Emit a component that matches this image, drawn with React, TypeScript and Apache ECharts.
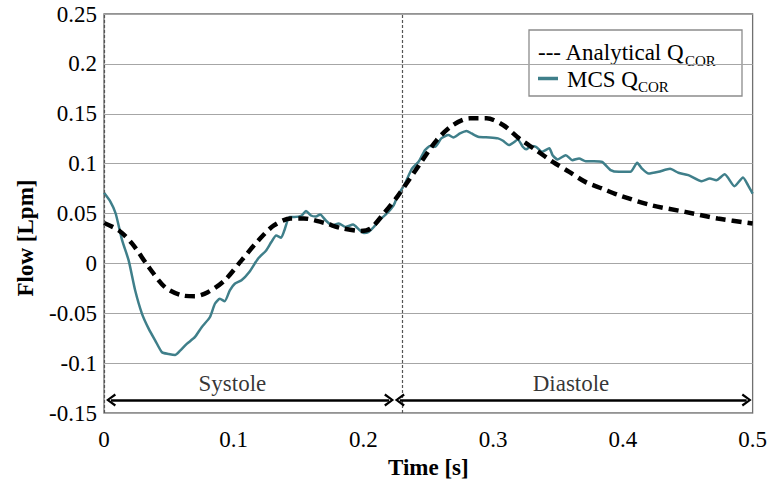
import React, { useEffect, useRef } from "react";
import * as echarts from "echarts";

const SERIF = "Liberation Serif, Times New Roman, serif";
const FAMILY = "Liberation Serif";

const xTicks = [0, 0.1, 0.2, 0.3, 0.4, 0.5];
const yTicks = [-0.15, -0.1, -0.05, 0, 0.05, 0.1, 0.15, 0.2, 0.25];

const analyticalT = [
  0, 0.0115, 0.0217, 0.0345, 0.047, 0.06, 0.07, 0.08, 0.093, 0.106, 0.119, 0.131,
  0.144, 0.154, 0.17, 0.1825, 0.198, 0.2055, 0.2157, 0.226, 0.2437, 0.2565, 0.269,
  0.282, 0.295, 0.3076, 0.32, 0.333, 0.346, 0.3586, 0.371, 0.384, 0.397, 0.422,
  0.448, 0.473, 0.5,
];
const analyticalQ = [
  0.0405, 0.033, 0.0198, -0.0037, -0.0238, -0.032, -0.033, -0.029, -0.017, 0.003,
  0.023, 0.038, 0.045, 0.045, 0.0405, 0.0355, 0.0325, 0.035, 0.05, 0.0667, 0.1,
  0.1236, 0.1387, 0.1454, 0.1454, 0.1387, 0.1253, 0.1136, 0.1018, 0.0918, 0.0817,
  0.075, 0.0683, 0.0583, 0.0516, 0.045, 0.04,
];

const mcsT = [
  0, 0.005, 0.009, 0.014, 0.019, 0.024, 0.0293, 0.0345, 0.0395, 0.0447, 0.0498,
  0.0548, 0.0587, 0.0638, 0.07, 0.0753, 0.0816, 0.0855, 0.0893, 0.093, 0.097,
  0.1008, 0.106, 0.112, 0.1187, 0.125, 0.129, 0.1327, 0.1365, 0.139, 0.143, 0.1468,
  0.1524, 0.1557, 0.1595, 0.1634, 0.1666, 0.171, 0.176, 0.181, 0.1863, 0.192,
  0.1965, 0.2003, 0.204, 0.208, 0.213, 0.218, 0.2233, 0.226, 0.232, 0.2374, 0.2425,
  0.2475, 0.2514, 0.2552, 0.26, 0.2655, 0.2693, 0.2744, 0.2795, 0.2833, 0.2884,
  0.2973, 0.3037, 0.3076, 0.3121, 0.3165, 0.319, 0.3228, 0.3254, 0.3293, 0.333,
  0.3377, 0.3433, 0.3458, 0.3497, 0.356, 0.3611, 0.3662, 0.3713, 0.3777, 0.384,
  0.3905, 0.397, 0.4058, 0.411, 0.4147, 0.4198, 0.4275, 0.4364, 0.4428, 0.4505,
  0.4607, 0.467, 0.472, 0.4785, 0.486, 0.4926, 0.4964, 0.5,
];
const mcsQ = [
  0.0707, 0.0617, 0.05, 0.023, 0.003, -0.027, -0.0506, -0.0657, -0.0774, -0.0891,
  -0.0908, -0.0918, -0.0874, -0.0807, -0.074, -0.064, -0.054, -0.0405, -0.0355,
  -0.0379, -0.027, -0.0204, -0.017, -0.0087, 0.0047, 0.013, 0.0214, 0.028, 0.0258,
  0.033, 0.0465, 0.0465, 0.048, 0.0526, 0.048, 0.047, 0.049, 0.043, 0.038, 0.04,
  0.0365, 0.0389, 0.034, 0.0305, 0.0315, 0.0365, 0.044, 0.05, 0.0583, 0.0667, 0.08,
  0.095, 0.1018, 0.1136, 0.1176, 0.1169, 0.1253, 0.1286, 0.1263, 0.1303, 0.1327,
  0.1303, 0.127, 0.1263, 0.1253, 0.1229, 0.1186, 0.1219, 0.1243, 0.1169, 0.1143,
  0.1176, 0.1169, 0.1119, 0.1153, 0.1085, 0.1042, 0.1085, 0.1035, 0.1052, 0.1025,
  0.1025, 0.1018, 0.0935, 0.0918, 0.0918, 0.1008, 0.095, 0.09, 0.0918, 0.0948,
  0.0908, 0.0884, 0.0824, 0.0851, 0.0834, 0.0894, 0.0774, 0.0861, 0.0784, 0.07,
];

const phaseNames = ["Systole", "Diastole"];
const phaseStartT = [0.0054, 0.228];
const phaseEndT = [0.2198, 0.4954];
const phaseLabelT = [0.099, 0.36];
const phaseArrowQ = -0.137;
const phaseBoundaryT = [0.003, 0.225];

const TEAL = "#3f7f8a";
const CHEVRON = "path://M5,0 L10,8 L8.4,9.2 L5,3.2 L1.6,9.2 L0,8 Z";

export default function App() {
  const ref = useRef<HTMLDivElement>(null);

  useEffect(() => {
    if (!ref.current) return;
    const chart = echarts.init(ref.current, null, { renderer: "svg" });

    const anaData = analyticalT.map((t, i) => [t, analyticalQ[i]]);
    const mcsData = mcsT.map((t, i) => [t, mcsQ[i]]);
    const labelData = phaseLabelT.map((t) => [t, phaseArrowQ]);

    const arrowLines = phaseNames.map((_, i) => [
      { coord: [phaseStartT[i], phaseArrowQ] },
      { coord: [phaseEndT[i], phaseArrowQ] },
    ]);
    const boundaryLines = phaseBoundaryT.map((t) => ({ xAxis: t }));

    const option: any = {
      animation: false,
      backgroundColor: "#ffffff",
      textStyle: { fontFamily: FAMILY },
      grid: {
        left: 104,
        right: 13,
        top: 14,
        bottom: 71,
        show: true,
        borderColor: "#707070",
        borderWidth: 1.3,
        backgroundColor: "#ffffff",
      },
      xAxis: {
        type: "value",
        min: xTicks[0],
        max: xTicks[xTicks.length - 1],
        interval: 0.1,
        name: "Time [s]",
        nameLocation: "middle",
        nameGap: 41,
        nameTextStyle: {
          fontFamily: FAMILY,
          fontSize: 23,
          fontWeight: "bold",
          color: "#000",
        },
        axisLine: { show: false },
        axisTick: { show: false },
        splitLine: { show: false },
        axisLabel: {
          fontFamily: FAMILY,
          fontSize: 23,
          color: "#000",
          margin: 15,
        },
      },
      yAxis: {
        type: "value",
        min: yTicks[0],
        max: yTicks[yTicks.length - 1],
        interval: 0.05,
        axisLine: { show: false },
        axisTick: { show: false },
        splitLine: { show: true, lineStyle: { color: "#a6a6a6", width: 1.2 } },
        axisLabel: {
          fontFamily: FAMILY,
          fontSize: 23,
          color: "#000",
          margin: 7,
        },
      },
      series: [
        {
          name: "MCS QCOR",
          type: "line",
          data: mcsData,
          showSymbol: false,
          symbol: "none",
          smooth: 0.2,
          lineStyle: { color: TEAL, width: 2.5 },
          z: 3,
          markLine: {
            silent: true,
            symbol: ["none", "none"],
            label: { show: false },
            lineStyle: { color: "#555", width: 1.2, type: [3, 2] },
            data: boundaryLines,
          },
        },
        {
          name: "Analytical QCOR",
          type: "line",
          data: anaData,
          showSymbol: false,
          symbol: "none",
          smooth: 0.3,
          lineStyle: { color: "#000", width: 4.5, type: [10, 6] },
          z: 4,
          markLine: {
            silent: true,
            symbol: [CHEVRON, CHEVRON],
            symbolSize: [13, 10],
            label: { show: false },
            lineStyle: { color: "#000", width: 2.5, type: "solid" },
            data: arrowLines,
          },
        },
        {
          name: "phases",
          type: "scatter",
          data: labelData,
          symbolSize: 0,
          silent: true,
          label: {
            show: true,
            position: "top",
            distance: 5,
            formatter: (p: any) => phaseNames[p.dataIndex],
            fontFamily: FAMILY,
            fontSize: 23,
            color: "#000",
          },
        },
      ],
      graphic: [
        {
          type: "text",
          x: 25,
          y: 238,
          rotation: Math.PI / 2,
          style: {
            text: "Flow [Lpm]",
            font: `bold 23px ${SERIF}`,
            fill: "#000",
            align: "center",
            verticalAlign: "middle",
          },
        },
        {
          type: "group",
          z: 100,
          children: [
            {
              type: "rect",
              shape: { x: 529, y: 30, width: 213, height: 66 },
              style: { fill: "#fff", stroke: "#8c8c8c", lineWidth: 1.3 },
            },
            {
              type: "text",
              x: 538,
              y: 52,
              style: {
                text: "--- Analytical Q",
                font: `23px ${SERIF}`,
                fill: "#000",
                align: "left",
                verticalAlign: "middle",
              },
            },
            {
              type: "text",
              x: 685,
              y: 60.5,
              style: {
                text: "COR",
                font: `15px ${SERIF}`,
                fill: "#000",
                align: "left",
                verticalAlign: "middle",
              },
            },
            {
              type: "line",
              shape: { x1: 538, y1: 78.5, x2: 558, y2: 78.5 },
              style: { stroke: TEAL, lineWidth: 3.5 },
            },
            {
              type: "text",
              x: 567,
              y: 79,
              style: {
                text: "MCS Q",
                font: `23px ${SERIF}`,
                fill: "#000",
                align: "left",
                verticalAlign: "middle",
              },
            },
            {
              type: "text",
              x: 638,
              y: 87,
              style: {
                text: "COR",
                font: `15px ${SERIF}`,
                fill: "#000",
                align: "left",
                verticalAlign: "middle",
              },
            },
          ],
        },
      ],
    };

    chart.setOption(option);
    return () => chart.dispose();
  }, []);

  return (
    <div
      ref={ref}
      style={{ position: "fixed", left: 0, top: 0, width: 770, height: 484, background: "#fff" }}
    />
  );
}
